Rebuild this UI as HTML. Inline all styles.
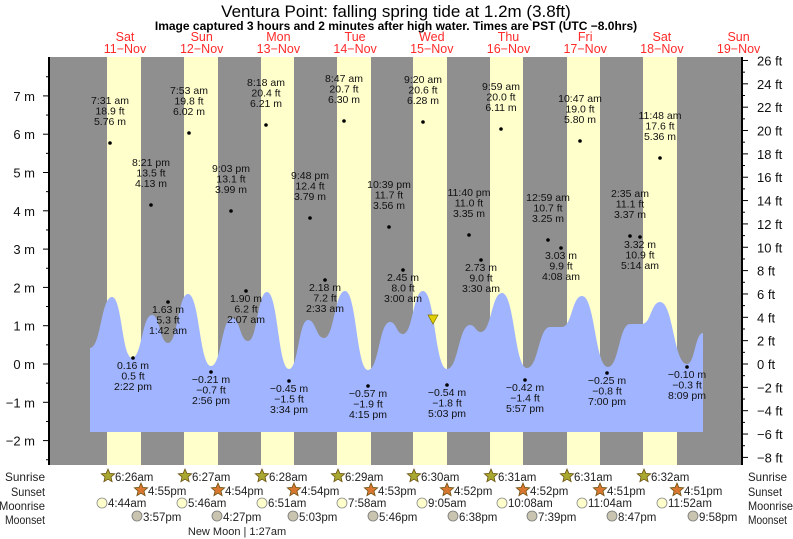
<!DOCTYPE html>
<html><head><meta charset="utf-8"><style>
html,body{margin:0;padding:0;background:#fff}
svg{display:block;font-family:"Liberation Sans",sans-serif}
</style></head><body>
<svg id="s" width="793" height="539" xmlns="http://www.w3.org/2000/svg">
<rect x="49" y="57" width="693" height="408" fill="#8f8f8f"/>
<g id="bands" fill="#ffffcc"></g>
<path id="tide" fill="#a0b4ff"/>
<g id="lbl" font-size="10.5" fill="#111" text-anchor="middle"></g>
<polygon points="428,315 438,315 433,324" fill="#e0d000" stroke="#807000" stroke-width="0.7"/>
<line x1="49" y1="57" x2="49" y2="465" stroke="#000" stroke-width="2"/>
<line x1="742" y1="57" x2="742" y2="465" stroke="#000" stroke-width="2"/>
<g id="ax" font-size="13" fill="#111"></g>
<text x="396" y="17" font-size="17" text-anchor="middle">Ventura Point: falling  spring tide at 1.2m (3.8ft)</text>
<text x="396" y="30" font-size="12" font-weight="bold" text-anchor="middle">Image captured 3 hours and 2 minutes after high water. Times are PST (UTC −8.0hrs)</text>
<g id="days" font-size="12.5" fill="#ff2a2a" text-anchor="middle"></g>
<g id="bot" font-size="11.5" fill="#222"></g>
<text x="237" y="535" font-size="11" fill="#222" text-anchor="middle">New Moon | 1:27am</text>
</svg>
<script>
var NS="http://www.w3.org/2000/svg";
function el(p,t,a,txt){var e=document.createElementNS(NS,t);for(var k in a)e.setAttribute(k,a[k]);if(txt!=null)e.textContent=txt;document.getElementById(p).appendChild(e);return e;}
[[107,141],[184,218],[261,294],[337,371],[413,447],[490,523],[567,600],[643,677]].forEach(function(b){el("bands","rect",{x:b[0],y:57,width:b[1]-b[0],height:408});});
var P=[[90,348],[112,297],[132,358],[152,315],[168,343],[188,294],[211,366],[232,318],[248,341],[267,292],[289,369],[308,320],[324,338],[345,291],[368,370],[390,322],[403,334],[423,291],[447,369],[470,325],[481,332],[502,293],[527,368],[550,327],[562,327],[582,296],[608,367],[630,324],[642,324],[660,302],[687,364],[703,333]];
var d="M90,432 L90,348";
for(var i=1;i<P.length;i++){var a=P[i-1],b=P[i],h=(b[0]-a[0])/2;d+=" C"+(a[0]+h)+","+a[1]+" "+(b[0]-h)+","+b[1]+" "+b[0]+","+b[1];}
d+=" L703,432 Z";document.getElementById("tide").setAttribute("d",d);
var H=[[110,143,"7:31 am","18.9 ft","5.76 m"],[189,133,"7:53 am","19.8 ft","6.02 m"],[266,125,"8:18 am","20.4 ft","6.21 m"],[344,121,"8:47 am","20.7 ft","6.30 m"],[423,122,"9:20 am","20.6 ft","6.28 m"],[501,129,"9:59 am","20.0 ft","6.11 m"],[580,141,"10:47 am","19.0 ft","5.80 m"],[660,158,"11:48 am","17.6 ft","5.36 m"],
[151,205,"8:21 pm","13.5 ft","4.13 m"],[231,211,"9:03 pm","13.1 ft","3.99 m"],[310,218,"9:48 pm","12.4 ft","3.79 m"],[389,227,"10:39 pm","11.7 ft","3.56 m"],[469,235,"11:40 pm","11.0 ft","3.35 m"],[548,240,"12:59 am","10.7 ft","3.25 m"],[630,236,"2:35 am","11.1 ft","3.37 m"]];
H.forEach(function(h){el("lbl","circle",{cx:h[0],cy:h[1],r:1.8,fill:"#000"});for(var j=0;j<3;j++)el("lbl","text",{x:h[0],y:h[1]-39+j*10.5},h[2+j]);});
var L=[[168,302,"1.63 m","5.3 ft","1:42 am"],[246,291,"1.90 m","6.2 ft","2:07 am"],[325,280,"2.18 m","7.2 ft","2:33 am"],[403,270,"2.45 m","8.0 ft","3:00 am"],[481,260,"2.73 m","9.0 ft","3:30 am"],[561,248,"3.03 m","9.9 ft","4:08 am"],[640,237,"3.32 m","10.9 ft","5:14 am"],
[133,358,"0.16 m","0.5 ft","2:22 pm"],[211,372,"−0.21 m","−0.7 ft","2:56 pm"],[289,381,"−0.45 m","−1.5 ft","3:34 pm"],[368,386,"−0.57 m","−1.9 ft","4:15 pm"],[447,385,"−0.54 m","−1.8 ft","5:03 pm"],[525,380,"−0.42 m","−1.4 ft","5:57 pm"],[607,373,"−0.25 m","−0.8 ft","7:00 pm"],[687,367,"−0.10 m","−0.3 ft","8:09 pm"]];
L.forEach(function(h){el("lbl","circle",{cx:h[0],cy:h[1],r:1.8,fill:"#000"});for(var j=0;j<3;j++)el("lbl","text",{x:h[0],y:h[1]+11+j*10.5},h[2+j]);});
for(var m=-2;m<=7;m++){var y=364-m*38.3;el("ax","line",{x1:43,y1:y,x2:49,y2:y,stroke:"#000"});el("ax","text",{x:35,y:y+5,"text-anchor":"end"},(m<0?"−"+(-m):m)+" m");}
for(var m=-2.5;m<=7.5;m+=1){var y=364-m*38.3;if(y>57&&y<465)el("ax","line",{x1:46,y1:y,x2:49,y2:y,stroke:"#000"});}
for(var f=-8;f<=26;f+=1){var y=364-f*0.3048*38.3;if(f%2==0){el("ax","line",{x1:742,y1:y,x2:748,y2:y,stroke:"#000"});el("ax","text",{x:757,y:y+5},(f<0?"−"+(-f):f)+" ft");}else el("ax","line",{x1:742,y1:y,x2:745,y2:y,stroke:"#000"});}
var D=[["Sat","11−Nov"],["Sun","12−Nov"],["Mon","13−Nov"],["Tue","14−Nov"],["Wed","15−Nov"],["Thu","16−Nov"],["Fri","17−Nov"],["Sat","18−Nov"],["Sun","19−Nov"]];
D.forEach(function(q,i){var x=125+i*76.7;el("days","text",{x:x,y:41},q[0]);el("days","text",{x:x,y:53},q[1]);});
var rows=[["Sunrise",477],["Sunset",492],["Moonrise",506],["Moonset",520]];
rows.forEach(function(r){el("bot","text",{x:45,y:r[1]+4,"text-anchor":"end","font-size":12,textLength:(r[0].length*5.7).toFixed(0),lengthAdjust:"spacingAndGlyphs"},r[0]);el("bot","text",{x:748,y:r[1]+4,"font-size":12,textLength:(r[0].length*5.6).toFixed(0),lengthAdjust:"spacingAndGlyphs"},r[0]);});
function star(x,y,fill){var p=[];for(var k=0;k<10;k++){var rr=k%2?3.2:7,a=-Math.PI/2+k*Math.PI/5;p.push((x+rr*Math.cos(a)).toFixed(1)+","+(y+rr*Math.sin(a)).toFixed(1));}el("bot","polygon",{points:p.join(" "),fill:fill,stroke:"#6a5010","stroke-width":0.8});}
var SR=[[108,"6:26am"],[185,"6:27am"],[262,"6:28am"],[338,"6:29am"],[414,"6:30am"],[491,"6:31am"],[567,"6:31am"],[644,"6:32am"]];
SR.forEach(function(s){star(s[0],476,"#a8a830");el("bot","text",{x:s[0]+7,y:481},s[1]);});
var SS=[[141,"4:55pm"],[218,"4:54pm"],[294,"4:54pm"],[371,"4:53pm"],[447,"4:52pm"],[523,"4:52pm"],[600,"4:51pm"],[677,"4:51pm"]];
SS.forEach(function(s){star(s[0],490,"#d87830");el("bot","text",{x:s[0]+7,y:495},s[1]);});
var MR=[[102,"4:44am"],[182,"5:46am"],[262,"6:51am"],[342,"7:58am"],[422,"9:05am"],[502,"10:08am"],[582,"11:04am"],[662,"11:52am"]];
MR.forEach(function(s){el("bot","circle",{cx:s[0],cy:503,r:5,fill:"#ffffcc",stroke:"#888","stroke-width":0.8});el("bot","text",{x:s[0]+6,y:507},s[1]);});
var MS=[[137,"3:57pm"],[217,"4:27pm"],[293,"5:03pm"],[373,"5:46pm"],[453,"6:38pm"],[532,"7:39pm"],[612,"8:47pm"],[693,"9:58pm"]];
MS.forEach(function(s){el("bot","circle",{cx:s[0],cy:516,r:5,fill:"#c8c4b0",stroke:"#777","stroke-width":0.8});el("bot","text",{x:s[0]+6,y:521},s[1]);});
</script>
</body></html>
